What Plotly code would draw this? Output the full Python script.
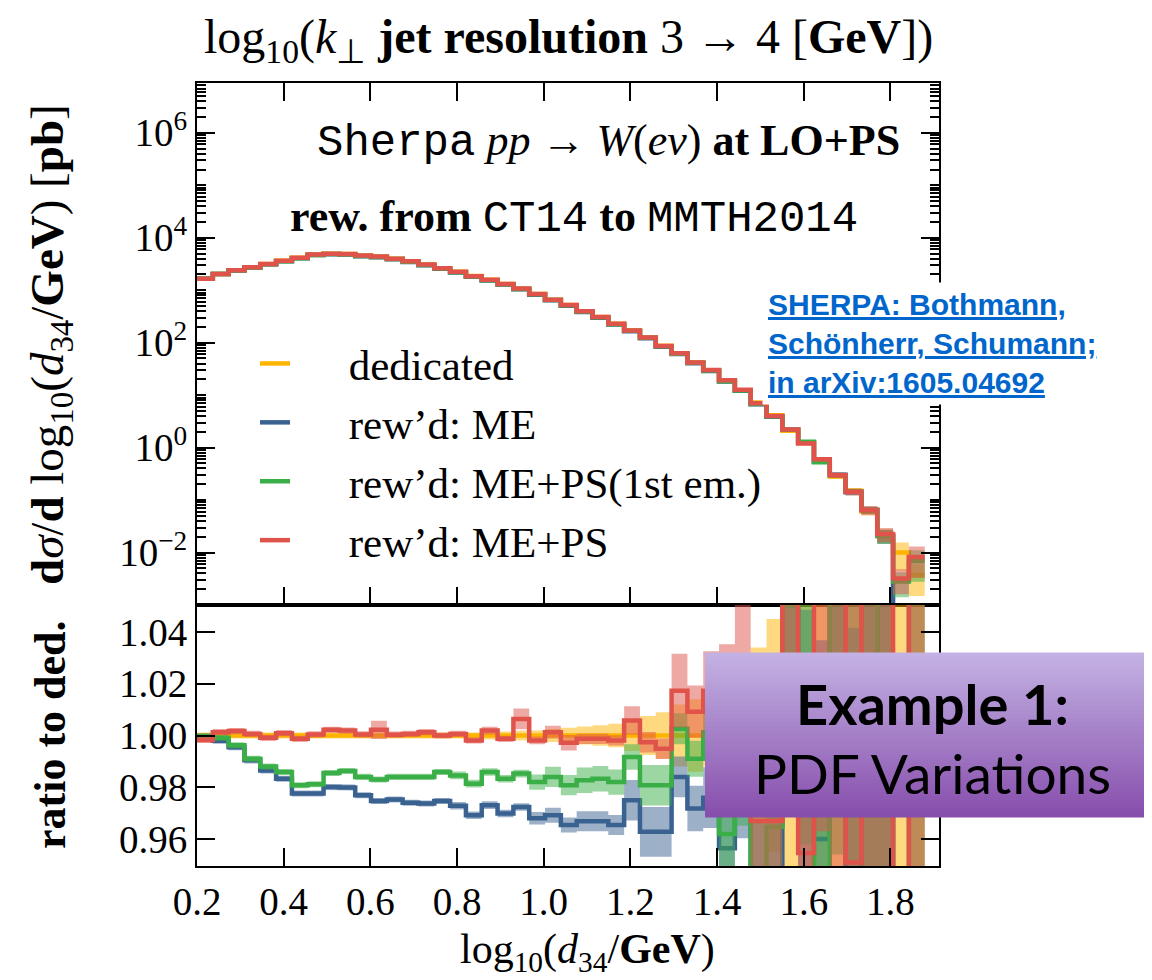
import numpy as np
import plotly.graph_objects as go
from plotly.subplots import make_subplots

# ---------------- data ----------------
x_start = 0.2          # first bin edge, log10(d34/GeV)
bin_width = 0.0365     # uniform bin width in log10(d34/GeV)

# dedicated cross section per bin [pb]
xsec_dedicated = [1660, 2040, 2400, 2750, 3160, 3630, 4170, 4790, 4950, 4900,
                  4570, 4370, 3980, 3550, 3090, 2630, 2240, 1860, 1580, 1320,
                  1070, 851, 661, 525, 398, 309, 229, 170, 126, 87.1,
                  61.7, 41.7, 29.5, 19.1, 12.3, 7.24, 4.12, 2.09, 1.26, 0.562,
                  0.282, 0.151, 0.0603, 0.0214, 0.0100, 0.00372]

# ratios of the reweighted predictions to the dedicated one
ratio_me = [0.9996, 0.9980, 0.9955, 0.9904, 0.9865, 0.9833, 0.9776, 0.9776, 0.9801, 0.9799,
            0.9769, 0.9747, 0.9753, 0.9740, 0.9737, 0.9747, 0.9729, 0.9692, 0.9731, 0.9699,
            0.9724, 0.9680, 0.9692, 0.9654, 0.9669, 0.9669, 0.9654, 0.9750, 0.9628, 0.9628,
            0.9840, 0.9718, 0.9760, 0.9565, 0.9900, 0.9300, 0.9400, 1.0600, 0.9800, 0.9600,
            1.0800, 0.9300, 1.0700, 0.9700, 0.0200, 0.0500]
ratio_me_ps1 = [0.9996, 0.9991, 0.9962, 0.9910, 0.9880, 0.9859, 0.9808, 0.9812, 0.9855, 0.9863,
                0.9840, 0.9830, 0.9840, 0.9840, 0.9840, 0.9859, 0.9846, 0.9814, 0.9859, 0.9833,
                0.9853, 0.9820, 0.9840, 0.9808, 0.9827, 0.9833, 0.9820, 0.9917, 0.9808, 0.9808,
                1.0026, 0.9910, 1.0013, 0.9620, 0.9950, 0.9400, 0.9647, 1.0500, 1.0300, 0.9400,
                1.0600, 0.9700, 1.0800, 0.9800, 0.2800, 1.8600]
ratio_me_ps = [0.9983, 1.0013, 1.0017, 1.0006, 0.9991, 1.0009, 0.9987, 1.0004, 1.0022, 1.0019,
               1.0004, 1.0022, 1.0003, 1.0006, 1.0013, 1.0000, 1.0006, 0.9981, 1.0019, 0.9987,
               1.0064, 0.9981, 1.0013, 0.9972, 0.9987, 0.9987, 0.9981, 1.0058, 0.9974, 0.9949,
               1.0173, 1.0092, 1.0173, 1.0100, 1.0300, 0.9670, 0.9670, 1.0600, 0.9546, 1.0700,
               1.0600, 0.9510, 1.0700, 1.0600, 0.3200, 2.2000]

# relative half-widths of the PDF uncertainty bands
err_ded = [0.0012, 0.0012, 0.0012, 0.0012, 0.0012, 0.0012, 0.0012, 0.0012, 0.0012, 0.0012,
           0.0012, 0.0012, 0.0012, 0.0012, 0.0012, 0.0012, 0.0012, 0.0012, 0.0015, 0.0015,
           0.0018, 0.0020, 0.0025, 0.0030, 0.0035, 0.0040, 0.0045, 0.0060, 0.0075, 0.0090,
           0.0120, 0.0140, 0.0120, 0.0200, 0.0300, 0.0340, 0.0450, 0.0600, 0.0700, 0.0800,
           0.1000, 0.1200, 0.1500, 0.3000, 0.5500, 0.6000]
err_me = [0.0012, 0.0012, 0.0012, 0.0012, 0.0012, 0.0012, 0.0012, 0.0012, 0.0012, 0.0012,
          0.0012, 0.0012, 0.0012, 0.0012, 0.0012, 0.0012, 0.0015, 0.0015, 0.0015, 0.0015,
          0.0015, 0.0025, 0.0030, 0.0030, 0.0040, 0.0040, 0.0040, 0.0080, 0.0100, 0.0100,
          0.0080, 0.0090, 0.0120, 0.0150, 0.0300, 0.0400, 0.0500, 0.0600, 0.0700, 0.0800,
          0.1000, 0.1200, 0.1500, 0.3000, 0.5000, 0.6000]
err_me_ps1 = [0.0012, 0.0012, 0.0012, 0.0012, 0.0012, 0.0012, 0.0012, 0.0012, 0.0012, 0.0012,
              0.0012, 0.0012, 0.0012, 0.0012, 0.0012, 0.0012, 0.0015, 0.0015, 0.0015, 0.0015,
              0.0015, 0.0030, 0.0040, 0.0040, 0.0050, 0.0050, 0.0050, 0.0050, 0.0080, 0.0080,
              0.0060, 0.0070, 0.0100, 0.0150, 0.0300, 0.0400, 0.0500, 0.0600, 0.0700, 0.0800,
              0.1000, 0.1200, 0.1500, 0.3000, 0.5000, 0.6000]
err_me_ps = [0.0012, 0.0012, 0.0012, 0.0012, 0.0012, 0.0012, 0.0012, 0.0012, 0.0012, 0.0012,
             0.0012, 0.0035, 0.0012, 0.0012, 0.0012, 0.0012, 0.0012, 0.0012, 0.0015, 0.0012,
             0.0040, 0.0015, 0.0025, 0.0030, 0.0020, 0.0020, 0.0020, 0.0055, 0.0040, 0.0040,
             0.0140, 0.0100, 0.0150, 0.0250, 0.0400, 0.0500, 0.0600, 0.0700, 0.0800, 0.1000,
             0.1200, 0.1500, 0.2000, 0.3000, 0.5000, 0.6000]

series_names = ["dedicated", "rew\u2019d: ME", "rew\u2019d: ME+PS(1st em.)", "rew\u2019d: ME+PS"]
series_colors = ["#ffb400", "#3a6291", "#3aae47", "#e0534a"]
band_colors = ["rgba(255,180,0,0.5)", "rgba(58,98,145,0.5)", "rgba(58,174,71,0.5)", "rgba(224,83,74,0.5)"]

# ---------------- derived ----------------
ded = np.array(xsec_dedicated, dtype=float)
n_bins = len(ded)
edges = x_start + bin_width * np.arange(n_bins + 1)
ratios = [ded / ded, np.array(ratio_me), np.array(ratio_me_ps1), np.array(ratio_me_ps)]
errs = [np.array(err_ded), np.array(err_me), np.array(err_me_ps1), np.array(err_me_ps)]


def step_xy(vals):
    return edges, np.append(vals, vals[-1])


def band_poly(lo, hi):
    xs, ys = [], []
    for i in range(n_bins):
        xs += [edges[i], edges[i + 1]]
        ys += [hi[i], hi[i]]
    for i in range(n_bins - 1, -1, -1):
        xs += [edges[i + 1], edges[i]]
        ys += [lo[i], lo[i]]
    return xs, ys


fig = make_subplots(rows=2, cols=1, shared_xaxes=True, vertical_spacing=0,
                    row_heights=[522 / 783, 261 / 783])

NB = "\u00a0" * 5
for k in range(4):
    r = ratios[k]
    e = errs[k]
    top = ded * r
    bx, by = band_poly(top * (1 - e), top * (1 + e))
    fig.add_trace(go.Scatter(x=bx, y=by, fill="toself", fillcolor=band_colors[k],
                             line=dict(width=0), mode="lines", showlegend=False,
                             hoverinfo="skip"), row=1, col=1)
    sx, sy = step_xy(top)
    fig.add_trace(go.Scatter(x=sx, y=sy, mode="lines", line=dict(color=series_colors[k], width=4.5,
                             shape="hv"), name=NB + series_names[k], showlegend=True), row=1, col=1)
    bx, by = band_poly(r * (1 - e), r * (1 + e))
    fig.add_trace(go.Scatter(x=bx, y=by, fill="toself", fillcolor=band_colors[k],
                             line=dict(width=0), mode="lines", showlegend=False,
                             hoverinfo="skip"), row=2, col=1)
    sx, sy = step_xy(r)
    fig.add_trace(go.Scatter(x=sx, y=sy, mode="lines", line=dict(color=series_colors[k], width=4.5,
                             shape="hv"), showlegend=False), row=2, col=1)

SERIF = "Liberation Serif"
MONO = "Liberation Mono"
tickfont = dict(family=SERIF, size=39, color="black")

axis_common = dict(showline=True, linecolor="black", linewidth=2, ticks="inside", ticklen=18,
                   tickwidth=2, tickcolor="black", showgrid=False, zeroline=False)

fig.update_xaxes(range=[0.2, 1.912], tick0=0.2, dtick=0.2, **axis_common)
fig.update_xaxes(mirror="ticks", showticklabels=False, row=1, col=1)
fig.update_xaxes(mirror=True, showticklabels=True, tickfont=tickfont, tickformat=".1f", row=2, col=1)

fig.update_yaxes(type="log", range=[-3, 6.95], tickvals=[1e-2, 1, 1e2, 1e4, 1e6],
                 ticktext=["10<sup>\u22122</sup>", "10<sup>0</sup>", "10<sup>2</sup>",
                           "10<sup>4</sup>", "10<sup>6</sup>"],
                 tickfont=tickfont, mirror="ticks",
                 minor=dict(ticks="inside", ticklen=9, tickwidth=1.5, tickcolor="black", dtick="D1"),
                 row=1, col=1, **axis_common)
fig.update_yaxes(range=[0.9496, 1.0504], tickvals=[0.96, 0.98, 1.00, 1.02, 1.04],
                 ticktext=["0.96", "0.98", "1.00", "1.02", "1.04"], tickfont=tickfont,
                 mirror="ticks", row=2, col=1, **axis_common)


def px2x(px):
    return (px - 197) / 742


def px2y(py):
    return (866 - py) / 783


ann = []
ann.append(dict(text="log<sub>10</sub>(<i>k</i><sub>\u22a5</sub> <b>jet resolution</b> 3 \u2192 4 [<b>GeV</b>])",
                x=px2x(568), y=px2y(40), font=dict(family=SERIF, size=48, color="black")))
ann.append(dict(text="<b>d</b><i>\u03c3</i>/<b>d</b> log<sub>10</sub>(<i>d</i><sub>34</sub>/<b>GeV</b>) [<b>pb</b>]",
                x=px2x(50), y=px2y(345), textangle=-90, font=dict(family=SERIF, size=47, color="black")))
ann.append(dict(text="<b>ratio to ded.</b>", x=px2x(50), y=px2y(735), textangle=-90,
                font=dict(family=SERIF, size=44, color="black")))
ann.append(dict(text="log<sub>10</sub>(<i>d</i><sub>34</sub>/<b>GeV</b>)", x=px2x(587), y=px2y(952),
                font=dict(family=SERIF, size=42, color="black")))
ann.append(dict(text=f'<span style="font-family:{MONO}">Sherpa</span> <i>pp</i> \u2192 <i>W</i>(<i>e\u03bd</i>) <b>at LO+PS</b>',
                x=px2x(902), y=px2y(142), xanchor="right", font=dict(family=SERIF, size=44, color="black")))
ann.append(dict(text=f'<b>rew. from</b> <span style="font-family:{MONO}">CT14</span> <b>to</b> <span style="font-family:{MONO}">MMTH2014</span>',
                x=px2x(860), y=px2y(218), xanchor="right", font=dict(family=SERIF, size=44, color="black")))
ann.append(dict(text="<u>SHERPA: Bothmann,</u><br><u>Sch\u00f6nherr, Schumann;</u><br><u>in arXiv:1605.04692</u>",
                x=px2x(762), y=px2y(343), xanchor="left", align="left", bgcolor="white", borderpad=5,
                font=dict(family="Liberation Sans", size=30, color="#0066cc", weight="bold")))

# purple "Example 1" box (vertical gradient from stacked strips)
shapes = []
top_rgb = np.array([196, 179, 228])
bot_rgb = np.array([135, 78, 172])
n_strips = 40
y_top, y_bot = px2y(653), px2y(817)
for i in range(n_strips):
    f = (i + 0.5) / n_strips
    c = top_rgb + (bot_rgb - top_rgb) * f
    y1 = y_top + (y_bot - y_top) * i / n_strips
    y0 = y_top + (y_bot - y_top) * (i + 1) / n_strips
    shapes.append(dict(type="rect", xref="paper", yref="paper", x0=px2x(705), x1=px2x(1160),
                       y0=y0 - 0.0005, y1=y1 + 0.0005, line=dict(width=0),
                       fillcolor=f"rgb({int(c[0])},{int(c[1])},{int(c[2])})", layer="above"))
ann.append(dict(text="<b>Example 1:</b>", x=px2x(932), y=px2y(703),
                font=dict(family="Lato", size=56, color="black")))
ann.append(dict(text="PDF Variations", x=px2x(932), y=px2y(773),
                font=dict(family="Lato", size=55, color="black")))

for a in ann:
    a.setdefault("xref", "paper")
    a.setdefault("yref", "paper")
    a.setdefault("showarrow", False)
    a.setdefault("xanchor", "center")
    a.setdefault("yanchor", "middle")

fig.update_layout(
    width=1152, height=980,
    margin=dict(l=189, r=221, t=75, b=122),
    paper_bgcolor="white", plot_bgcolor="white",
    annotations=ann, shapes=shapes,
    legend=dict(x=px2x(255), y=px2y(329), xanchor="left", yanchor="top",
                bgcolor="rgba(0,0,0,0)", font=dict(family=SERIF, size=43, color="black"),
                tracegroupgap=0, itemwidth=30),
)

fig.write_html("out.html")
